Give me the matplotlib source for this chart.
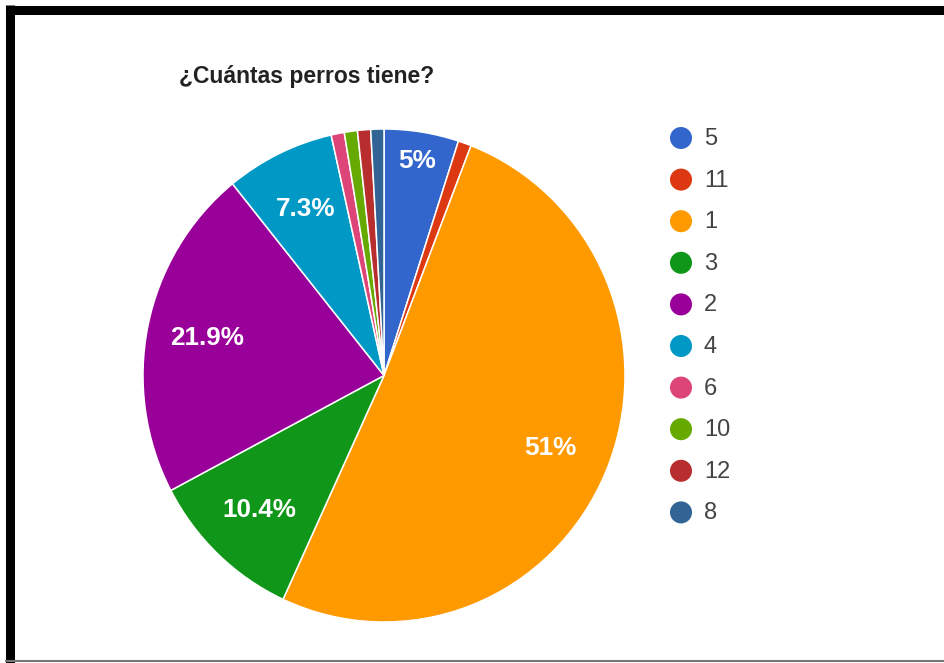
import numpy as np
import matplotlib
matplotlib.use("Agg")
import matplotlib.pyplot as plt
from matplotlib.lines import Line2D

plt.rcParams['font.family'] = ['Liberation Sans', 'DejaVu Sans']

# respuestas: cantidad de perros y porcentaje de cada una
categorias = ['5', '11', '1', '3', '2', '4', '6', '10', '12', '8']
porcentajes = [5.0, 0.88, 51.0, 10.4, 21.9, 7.3, 0.88, 0.88, 0.88, 0.88]
colores = ['#3366CC', '#DC3912', '#FF9900', '#109618', '#990099',
           '#0099C6', '#DD4477', '#66AA00', '#B82E2E', '#316395']
titulo = '¿Cuántas perros tiene?'

W, H = 945, 663
fig = plt.figure(figsize=(W / 100, H / 100), dpi=100)
fig.patch.set_facecolor('white')

# pie: centre (384, 375.5) px, radii 241 x 246.5 px
cx, cy, rx, ry = 384, 375.5, 241, 246.5
ax = fig.add_axes([(cx - rx) / W, (H - cy - ry) / H, 2 * rx / W, 2 * ry / H])


def fmt(p):
    return f'{p:.3g}%' if p >= 4 else ''


wedges, texts, autotexts = ax.pie(
    porcentajes, colors=colores, startangle=90, counterclock=False,
    autopct=fmt, pctdistance=0.75, radius=1,
    wedgeprops=dict(edgecolor='white', linewidth=1.1),
    textprops=dict(color='white', fontsize=18.8, fontweight='bold'))
ax.set_aspect('auto')
ax.set_xlim(-1, 1)
ax.set_ylim(-1, 1)

# the thin first slice gets its label pushed out towards the rim
w0 = wedges[0]
ang = np.deg2rad((w0.theta1 + w0.theta2) / 2)
autotexts[0].set_position((0.88 * np.cos(ang), 0.88 * np.sin(ang)))

fig.text(179 / W, 1 - 83 / H, titulo, fontsize=16.5, fontweight='bold',
         color='#222222', ha='left', va='baseline')

# legend column
lax = fig.add_axes([0, 0, 1, 1])
lax.set_xlim(0, W)
lax.set_ylim(H, 0)
lax.axis('off')
y0, paso = 138, 41.6
for i, (cat, col) in enumerate(zip(categorias, colores)):
    y = y0 + i * paso
    lax.scatter([681], [y], s=22 ** 2 * 0.52, color=col, edgecolors='none')
    lax.text(704, y + 1, cat, fontsize=17, color='#444444', va='center', ha='left')

# frame around the screenshot
fig.add_artist(Line2D([10 / W, 10 / W], [0, 1 - 5 / H], color='black',
                      lw=6.5, transform=fig.transFigure, solid_capstyle='butt'))
fig.add_artist(Line2D([6 / W, 1], [1 - 9.5 / H, 1 - 9.5 / H], color='black',
                      lw=6.5, transform=fig.transFigure, solid_capstyle='butt'))
fig.add_artist(Line2D([6 / W, 1], [1 - 661 / H, 1 - 661 / H], color='#777777',
                      lw=1.5, transform=fig.transFigure))

fig.savefig('out.png', dpi=100, facecolor='white')
